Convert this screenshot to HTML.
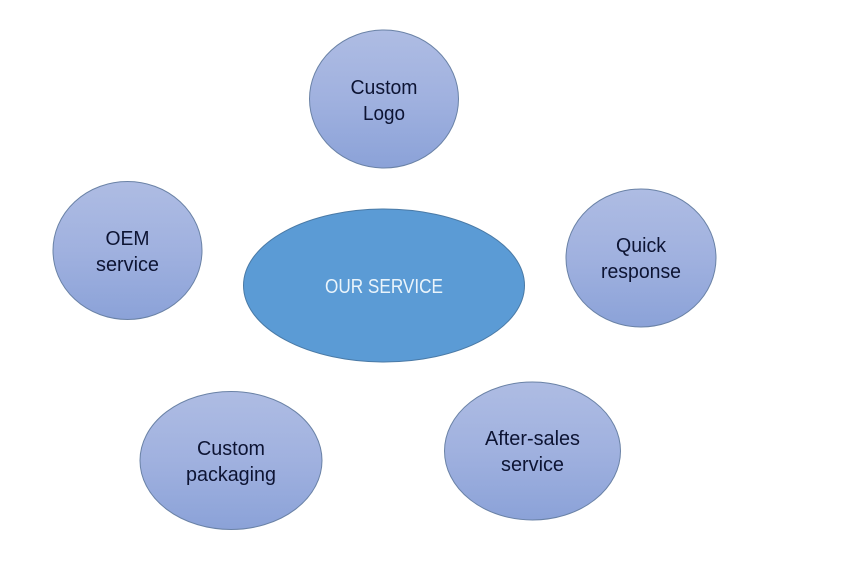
<!DOCTYPE html>
<html>
<head>
<meta charset="utf-8">
<style>
html,body{margin:0;padding:0;background:#fff;width:853px;height:566px;overflow:hidden}
svg{display:block}
text{font-family:"Liberation Sans",sans-serif;font-size:20px;text-anchor:middle;fill:#0d1433}
</style>
</head>
<body>
<svg width="853" height="566" viewBox="0 0 853 566" xmlns="http://www.w3.org/2000/svg">
<defs>
<linearGradient id="g" x1="0" y1="0" x2="0" y2="1">
<stop offset="0" stop-color="#aebce3"/>
<stop offset="0.5" stop-color="#a0b1df"/>
<stop offset="1" stop-color="#8ba2d8"/>
</linearGradient>
</defs>
<rect width="853" height="566" fill="#fff"/>
<ellipse cx="384" cy="99" rx="74.5" ry="69" fill="url(#g)" stroke="#6a82a6" stroke-width="1"/>
<ellipse cx="127.500" cy="250.500" rx="74.500" ry="69" fill="url(#g)" stroke="#6a82a6" stroke-width="1"/>
<ellipse cx="641" cy="258" rx="75" ry="69" fill="url(#g)" stroke="#6a82a6" stroke-width="1"/>
<ellipse cx="231" cy="460.500" rx="91" ry="69" fill="url(#g)" stroke="#6a82a6" stroke-width="1"/>
<ellipse cx="532.500" cy="451" rx="88" ry="69" fill="url(#g)" stroke="#6a82a6" stroke-width="1"/>
<ellipse cx="384" cy="285.500" rx="140.500" ry="76.500" fill="#5b9bd5" stroke="#4a7aa6" stroke-width="1"/>
<text x="384" y="94" textLength="67" lengthAdjust="spacingAndGlyphs">Custom</text>
<text x="384" y="120" textLength="42" lengthAdjust="spacingAndGlyphs">Logo</text>
<text x="127.500" y="245" textLength="44" lengthAdjust="spacingAndGlyphs">OEM</text>
<text x="127.500" y="271" textLength="63" lengthAdjust="spacingAndGlyphs">service</text>
<text x="641" y="252" textLength="50" lengthAdjust="spacingAndGlyphs">Quick</text>
<text x="641" y="278" textLength="80" lengthAdjust="spacingAndGlyphs">response</text>
<text x="231" y="455" textLength="68" lengthAdjust="spacingAndGlyphs">Custom</text>
<text x="231" y="481" textLength="90" lengthAdjust="spacingAndGlyphs">packaging</text>
<text x="532.500" y="445" textLength="95" lengthAdjust="spacingAndGlyphs">After-sales</text>
<text x="532.500" y="471" textLength="63" lengthAdjust="spacingAndGlyphs">service</text>
<text x="384" y="293" textLength="118" lengthAdjust="spacingAndGlyphs" style="fill:#eaf4fb">OUR SERVICE</text>
</svg>
</body>
</html>
